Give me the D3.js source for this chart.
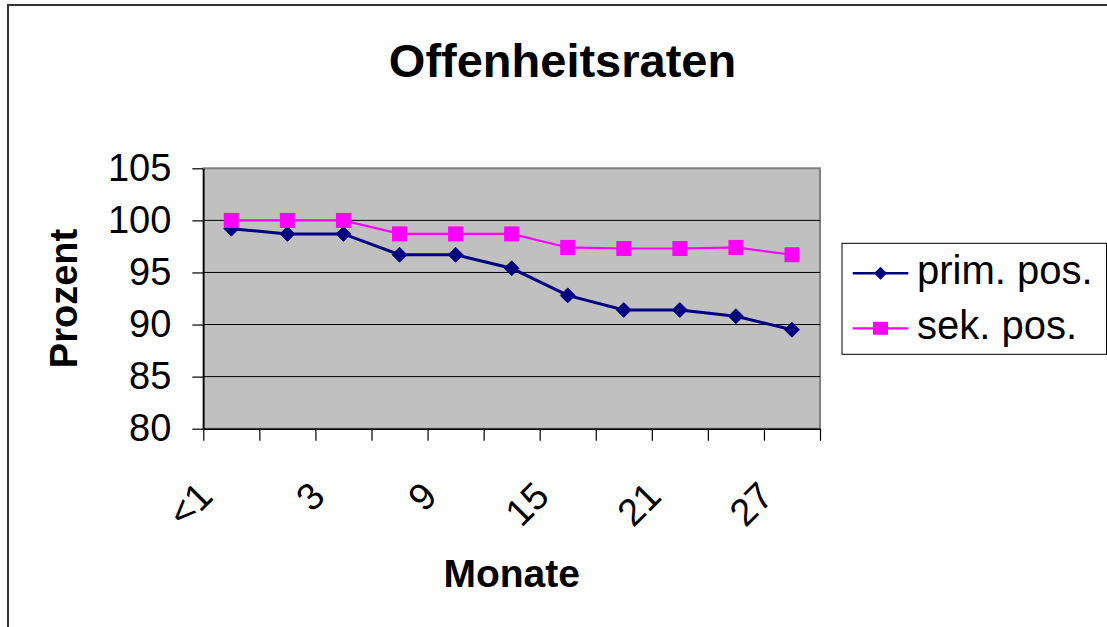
<!DOCTYPE html>
<html>
<head>
<meta charset="utf-8">
<script src="https://cdn.jsdelivr.net/npm/d3@7"></script>
<style>
  html, body { margin: 0; padding: 0; background: #fff; }
  svg { display: block; }
  text { font-family: "Liberation Sans", Arial, Helvetica, sans-serif; fill: #000; }
</style>
</head>
<body>
<svg id="chart" width="1107" height="627"></svg>
<script>
// Months since surgery (only every second category is labelled)
const categories = ["<1", "1", "3", "6", "9", "12", "15", "18", "21", "24", "27"];
// Patency rates in percent
const primPos = [99.2, 98.7, 98.7, 96.7, 96.7, 95.4, 92.8, 91.4, 91.4, 90.8, 89.5];
const sekPos  = [100, 100, 100, 98.7, 98.7, 98.7, 97.4, 97.3, 97.3, 97.4, 96.7];
const seriesNames = ["prim. pos.", "sek. pos."];
const yTicks = [80, 85, 90, 95, 100, 105];

const title = "Offenheitsraten";
const xTitle = "Monate";
const yTitle = "Prozent";

const svg = d3.select("#chart");

// outer chart frame (runs past the right and bottom edges)
svg.append("rect")
  .attr("x", 8).attr("y", 5)
  .attr("width", 1109).attr("height", 640)
  .attr("fill", "#fff").attr("stroke", "#333").attr("stroke-width", 2);

const plot = { left: 203.3, right: 820, top: 168.3, bottom: 428.7 };

const x = d3.scaleBand().domain(categories).range([plot.left, plot.right]).padding(0);
const xEdge = d3.scaleLinear().domain([0, categories.length]).range([plot.left, plot.right]);
const y = d3.scaleLinear().domain([80, 105]).range([plot.bottom, plot.top]);
const cx = c => x(c) + x.bandwidth() / 2;

// plot background
svg.append("rect")
  .attr("x", plot.left).attr("y", plot.top)
  .attr("width", plot.right - plot.left).attr("height", plot.bottom - plot.top)
  .attr("fill", "#c0c0c0").attr("stroke", "#808080").attr("stroke-width", 2);

// horizontal gridlines
svg.append("g").selectAll("line")
  .data(yTicks.filter(v => v > 80 && v < 105))
  .join("line")
  .attr("x1", plot.left).attr("x2", plot.right)
  .attr("y1", d => y(d)).attr("y2", d => y(d))
  .attr("stroke", "#000").attr("stroke-width", 1);

// y axis
const yAxis = svg.append("g")
  .attr("transform", `translate(${plot.left},0)`)
  .call(d3.axisLeft(y).tickValues(yTicks).tickSize(11).tickSizeOuter(0).tickPadding(21));
yAxis.select(".domain").attr("stroke", "#000").attr("stroke-width", 1.5);
yAxis.selectAll(".tick line").attr("stroke", "#000").attr("stroke-width", 1.2);
yAxis.selectAll(".tick text")
  .attr("font-size", 38).attr("font-family", "Liberation Sans, Arial, sans-serif").attr("fill", "#000");

// x axis: ticks on category boundaries
const xAxis = svg.append("g")
  .attr("transform", `translate(0,${plot.bottom})`)
  .call(d3.axisBottom(xEdge).tickValues(d3.range(categories.length + 1)).tickSize(12).tickSizeOuter(0).tickFormat(""));
xAxis.select(".domain").attr("stroke", "#000").attr("stroke-width", 1.5);
xAxis.selectAll(".tick line").attr("stroke", "#000").attr("stroke-width", 1.2);

// rotated category labels, every second one
svg.append("g").selectAll("text")
  .data(categories.filter((c, i) => i % 2 === 0))
  .join("text")
  .attr("transform", d => `translate(${cx(d) - 26},489) rotate(-45)`)
  .attr("text-anchor", "end")
  .attr("dy", "0.35em")
  .attr("font-size", 38)
  .text(d => d);

// lines and markers
const line = d3.line().x((d, i) => cx(categories[i])).y(d => y(d));
const diamond = s => `M0,${-s}L${s},0L0,${s}L${-s},0Z`;

svg.append("path").datum(primPos)
  .attr("d", line).attr("fill", "none")
  .attr("stroke", "#000080").attr("stroke-width", 3);
svg.append("g").selectAll("path")
  .data(primPos).join("path")
  .attr("transform", (d, i) => `translate(${cx(categories[i])},${y(d)})`)
  .attr("d", diamond(7.5))
  .attr("fill", "#000080").attr("stroke", "#000080").attr("stroke-width", 0.8);

svg.append("path").datum(sekPos)
  .attr("d", line).attr("fill", "none")
  .attr("stroke", "#ff00ff").attr("stroke-width", 2.2);
svg.append("g").selectAll("rect")
  .data(sekPos).join("rect")
  .attr("x", (d, i) => cx(categories[i]) - 7.5)
  .attr("y", d => y(d) - 7.5)
  .attr("width", 15).attr("height", 15)
  .attr("fill", "#ff00ff");

// titles
svg.append("text")
  .attr("x", 562.5).attr("y", 77)
  .attr("text-anchor", "middle")
  .attr("font-size", 47).attr("font-weight", "bold")
  .text(title);

svg.append("text")
  .attr("x", (plot.left + plot.right) / 2).attr("y", 587)
  .attr("text-anchor", "middle")
  .attr("font-size", 39).attr("font-weight", "bold")
  .text(xTitle);

svg.append("text")
  .attr("transform", `translate(77,${(plot.top + plot.bottom) / 2}) rotate(-90)`)
  .attr("text-anchor", "middle")
  .attr("font-size", 38).attr("font-weight", "bold")
  .text(yTitle);

// legend
const legend = svg.append("g");
legend.append("rect")
  .attr("x", 842).attr("y", 243.3).attr("width", 264.5).attr("height", 111)
  .attr("fill", "#fff").attr("stroke", "#000").attr("stroke-width", 1);

const legendRows = [
  { name: seriesNames[0], color: "#000080", width: 2.5, y: 273.3, marker: "diamond" },
  { name: seriesNames[1], color: "#ff00ff", width: 2.2, y: 328.3, marker: "square" }
];
legendRows.forEach(r => {
  legend.append("line")
    .attr("x1", 852.7).attr("x2", 908.3).attr("y1", r.y).attr("y2", r.y)
    .attr("stroke", r.color).attr("stroke-width", r.width);
  if (r.marker === "diamond") {
    legend.append("path")
      .attr("transform", `translate(880.5,${r.y})`)
      .attr("d", diamond(6.5)).attr("fill", r.color);
  } else {
    legend.append("rect")
      .attr("x", 880.5 - 7.5).attr("y", r.y - 6.5).attr("width", 15).attr("height", 13)
      .attr("fill", r.color);
  }
  legend.append("text")
    .attr("x", 917).attr("y", r.y + 10.5)
    .attr("font-size", 40)
    .text(r.name);
});
</script>
</body>
</html>
